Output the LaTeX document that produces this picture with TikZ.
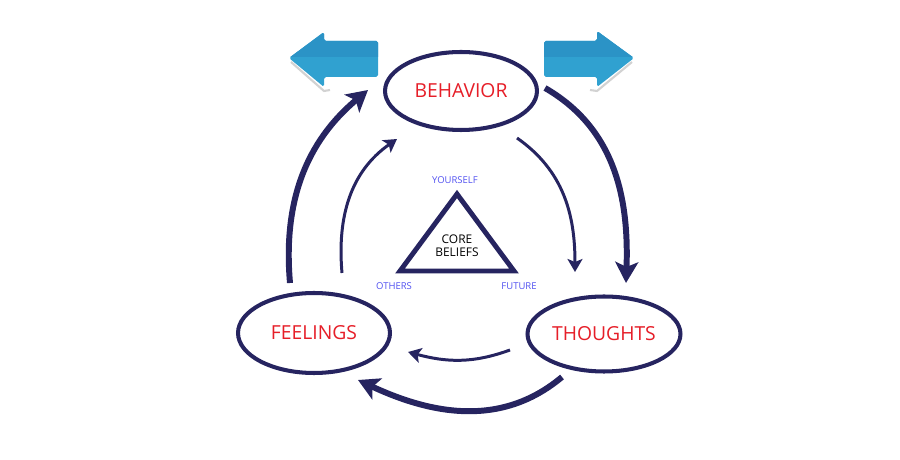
\documentclass[tikz,border=0pt]{standalone}
\usepackage{fontspec}
\setmainfont{Open Sans}
\usepackage{tikz}
\usetikzlibrary{arrows.meta,shapes.geometric}
\definecolor{cbtnavy}{RGB}{38,36,96}
\definecolor{cbtred}{RGB}{230,30,40}
\definecolor{cbtblue}{RGB}{80,80,240}
\definecolor{arrowdark}{RGB}{43,147,198}
\definecolor{arrowlight}{RGB}{48,161,208}

\begin{document}
\begin{tikzpicture}[x=0.02cm,y=0.02cm,
        stage/.style={ellipse,draw=cbtnavy,line width=2.3pt,fill=white,
          text=cbtred,font=\fontsize{11}{13}\selectfont,inner sep=0pt},
        corner/.style={text=cbtblue,font=\fontsize{5.4}{6}\selectfont,inner sep=0pt},
        outer/.style={draw=cbtnavy,line width=3.4pt,
          -{Stealth[length=0.42cm,width=0.46cm,inset=0.1cm]}},
        inner/.style={draw=cbtnavy,line width=1.7pt,
          -{Stealth[length=0.26cm,width=0.3cm,inset=0.06cm]}}]
        \useasboundingbox (0,0) rectangle (900,460);
        % three stages
        \node[stage,minimum width=3.04cm,minimum height=1.56cm] (beh) at (461,369) {BEHAVIOR};
        \node[stage,minimum width=3.04cm,minimum height=1.6cm] (feel) at (314,127) {FEELINGS};
        \node[stage,minimum width=3.06cm,minimum height=1.5cm] (thou) at (604,126) {THOUGHTS};
        % core beliefs triangle
        \coordinate (apex) at (457,266);
        \coordinate (bl) at (400,189);
        \coordinate (br) at (514,189);
        \draw[cbtnavy,line width=2.8pt,line join=miter,fill=white] (apex)--(bl)--(br)--cycle;
        \node[align=center,font=\fontsize{6.8}{7.4}\selectfont] (core) at (457,214) {CORE\\BELIEFS};
        \node[corner] (self) at (455,280) {YOURSELF};
        \node[corner] (oth) at (394,174) {OTHERS};
        \node[corner] (fut) at (519,174) {FUTURE};
        % ends of the cycle arrows
        \coordinate (o1) at (290,177); \coordinate (o2) at (368,370);
        \coordinate (o3) at (545,372); \coordinate (o4) at (626,177);
        \coordinate (o5) at (562,83);  \coordinate (o6) at (358,80);
        \coordinate (i1) at (342,187); \coordinate (i2) at (397,321);
        \coordinate (i3) at (517,322); \coordinate (i4) at (575,188);
        \coordinate (i5) at (510,110); \coordinate (i6) at (408,108);
        \draw[outer] (o1) to[out=95,in=220] (o2);
        \draw[outer] (o3) to[out=-30,in=88] (o4);
        \draw[outer] (o5) to[out=220,in=-25] (o6);
        \draw[inner] (i1) to[out=95,in=215] (i2);
        \draw[inner] (i3) to[out=-35,in=90] (i4);
        \draw[inner] (i5) to[out=200,in=-15] (i6);
        % blue arrows
        \draw[gray!35,line width=1.2pt] (291,398)--(324,369)--(330,370);
        \draw[gray!35,line width=1.2pt] (632,398)--(597,369)--(590,370);
        \fill[arrowlight,rounded corners=1pt] (289,402)--(324,428)--(324,419)--(378,419)
          --(378,383)--(324,383)--(324,373)--cycle;
        \fill[arrowlight,rounded corners=1pt] (634,402)--(597,429)--(597,419)--(544,419)
          --(544,383)--(597,383)--(597,373)--cycle;
        \begin{scope}
          \clip (0,403) rectangle (900,460);
          \fill[arrowdark,rounded corners=1pt] (289,402)--(324,428)--(324,419)--(378,419)
            --(378,383)--(324,383)--(324,373)--cycle;
          \fill[arrowdark,rounded corners=1pt] (634,402)--(597,429)--(597,419)--(544,419)
            --(544,383)--(597,383)--(597,373)--cycle;
        \end{scope}
      \end{tikzpicture}
\end{document}
